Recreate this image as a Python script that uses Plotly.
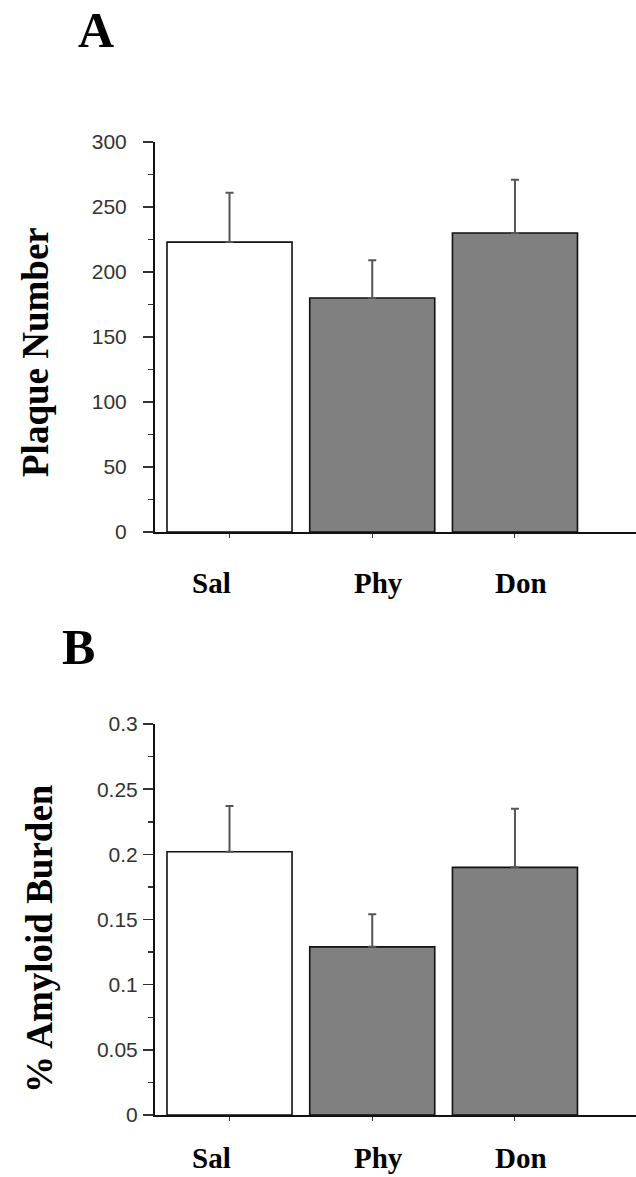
import plotly.graph_objects as go

# ---- data ----
categories = ["Sal", "Phy", "Don"]
plaque_mean = [223, 180, 230]
plaque_err = [38, 29, 41]
amyloid_mean = [0.202, 0.129, 0.19]
amyloid_err = [0.035, 0.025, 0.045]
bar_colors = ["#ffffff", "#808080", "#808080"]

W, H = 636, 1177

def px(x):
    return x / W

def py(y):
    return 1 - y / H

fig = go.Figure()

def add_bars(mean, err, xa, ya):
    fig.add_trace(go.Bar(
        x=categories, y=mean, xaxis=xa, yaxis=ya,
        width=0.876,
        marker=dict(color=bar_colors, line=dict(color="#111111", width=1.6)),
        error_y=dict(type="data", symmetric=False, array=err,
                     arrayminus=[0] * len(err), color="#555555",
                     thickness=2, width=4),
        showlegend=False, hoverinfo="skip",
    ))

add_bars(plaque_mean, plaque_err, "x", "y")
add_bars(amyloid_mean, amyloid_err, "x2", "y2")

xrange = [-0.522, 2.848]
tickfont = dict(family="Liberation Sans, Arial, sans-serif", size=21, color="#333333")

common_x = dict(range=xrange, showline=True, linecolor="#111111", linewidth=2,
                ticks="outside", ticklen=4, tickcolor="#333333", showticklabels=False,
                showgrid=False, zeroline=False, fixedrange=True, automargin=False,
                domain=[px(155), 1.0])

fig.update_layout(
    template="none",
    width=W, height=H,
    autosize=False,
    margin=dict(l=0, r=0, t=0, b=0, pad=0),
    paper_bgcolor="white", plot_bgcolor="white",
    bargap=0,
    xaxis=dict(**common_x, anchor="y"),
    xaxis2=dict(**common_x, anchor="y2"),
    yaxis=dict(range=[0, 300], dtick=50, domain=[py(532), py(142)], anchor="x",
               showline=True, linecolor="#111111", linewidth=2, automargin=False,
               ticks="outside", ticklen=10, tickcolor="#333333", tickwidth=1.5,
               minor=dict(dtick=25, ticks="outside", ticklen=5, tickcolor="#333333", tickwidth=1.5),
               tickfont=tickfont, ticklabelstandoff=12,
               showgrid=False, zeroline=False, fixedrange=True),
    yaxis2=dict(range=[0, 0.3], dtick=0.05, domain=[py(1115), py(724)], anchor="x2",
                showline=True, linecolor="#111111", linewidth=2, automargin=False,
                ticks="outside", ticklen=10, tickcolor="#333333", tickwidth=1.5,
                minor=dict(dtick=0.025, ticks="outside", ticklen=5, tickcolor="#333333", tickwidth=1.5),
                tickfont=tickfont, ticklabelstandoff=1,
                showgrid=False, zeroline=False, fixedrange=True),
)

serif_bold = "Liberation Serif, Times New Roman, serif"
base_ann = dict(xref="paper", yref="paper", showarrow=False, xanchor="center", yanchor="middle")
annotations = []
# panel letters
annotations.append(dict(base_ann, text="<b>A</b>", x=px(96), y=py(30),
                        font=dict(family=serif_bold, size=50, color="black")))
annotations.append(dict(base_ann, text="<b>B</b>", x=px(78), y=py(647),
                        font=dict(family=serif_bold, size=50, color="black")))
# y titles
annotations.append(dict(base_ann, text="<b>Plaque Number</b>", x=px(35), y=py(352),
                        textangle=-90, font=dict(family=serif_bold, size=37, color="black")))
annotations.append(dict(base_ann, text="<b>% Amyloid Burden</b>", x=px(39), y=py(939),
                        textangle=-90, font=dict(family=serif_bold, size=37, color="black")))
# category labels
shifts = [-18, 6, 6]
for cat, s in zip(categories, shifts):
    annotations.append(dict(text="<b>%s</b>" % cat, x=cat, xref="x", y=py(583), yref="paper",
                            xshift=s, showarrow=False, xanchor="center", yanchor="middle",
                            font=dict(family=serif_bold, size=29, color="black")))
    annotations.append(dict(text="<b>%s</b>" % cat, x=cat, xref="x2", y=py(1158), yref="paper",
                            xshift=s, showarrow=False, xanchor="center", yanchor="middle",
                            font=dict(family=serif_bold, size=29, color="black")))
fig.update_layout(annotations=annotations)

fig.write_html("out.html",
               config={"displayModeBar": False, "staticPlot": True},
               post_script="document.body.style.margin='0px';document.body.style.padding='0px';")
